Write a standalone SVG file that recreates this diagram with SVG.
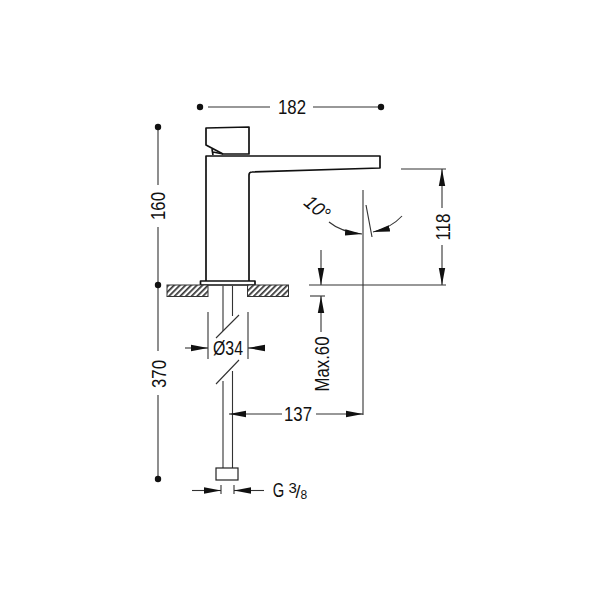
<svg xmlns="http://www.w3.org/2000/svg" width="600" height="600" viewBox="0 0 600 600">
<defs>
<marker id="a" markerUnits="userSpaceOnUse" markerWidth="18" markerHeight="8" refX="17" refY="4" orient="auto-start-reverse"><path d="M0 .8L17 4L0 7.2Z" fill="#111"/></marker>
<circle id="dot" r="3.2" fill="#111"/>
<pattern id="h" patternUnits="userSpaceOnUse" width="4" height="4" patternTransform="rotate(-45)"><rect width="4" height="4" fill="#fff"/><rect width="4" height="1.7" fill="#333"/></pattern>
</defs>
<style>
.o{fill:none;stroke:#111;stroke-width:1.7;stroke-linejoin:round}
.d{fill:none;stroke:#333;stroke-width:1.1}
.ar{marker-end:url(#a)}
text{font-family:"Liberation Sans",Arial,sans-serif;font-size:19.5px;fill:#111;text-anchor:middle}
</style>
<rect width="600" height="600" fill="#fff"/>
<g id="faucet">
<path class="o" d="M206 128L249 127V154H223L206 145Z"/>
<path class="o" d="M212 149L213 155M213 152L223 154"/>
<path class="o" d="M206 281V156H380V168L252 172Q249 172 249 175V281"/>
<path class="o" d="M200.500 285V281H255V285Z"/>
</g>
<g id="counter">
<rect x="167" y="285" width="41" height="11.500" fill="url(#h)" stroke="#333"/>
<rect x="247.500" y="285" width="41" height="11.500" fill="url(#h)" stroke="#333"/>
</g>
<g id="pipe">
<path class="d" d="M223 286V331M232.500 286V316M223 381V468M232.500 371V468"/>
<path class="d" d="M216 338L239 315M216 384L239 360"/>
<rect x="216" y="468" width="22" height="12" fill="#fff" stroke="#222" stroke-width="1.2"/>
</g>
<g id="connectors">
<path class="d" d="M208 107H270M313 107H379"/>
<path class="d" d="M158 128V185M158 227V351M158 395V479"/>
<path class="d" d="M363 190V415"/>
<path class="d" d="M366 205L372 237"/>
<path class="d" d="M309 285H446M401 169H446"/>
<path class="d" d="M310 296H325"/>
<path class="d" d="M208 312V359M248 312V359"/>
<path class="d" d="M221 485V494M234 485V494"/>
<path class="d ar" d="M442 208V169"/>
<path class="d ar" d="M442 245V285"/>
<path class="d ar" d="M321 250V285"/>
<path class="d ar" d="M321 332V296"/>
<path class="d ar" d="M185 348H208"/>
<path class="d ar" d="M265 348H248"/>
<path class="d ar" d="M282 414H229"/>
<path class="d ar" d="M316 414H363"/>
<path class="d ar" d="M192 490.500H221"/>
<path class="d ar" d="M264 490.500H234"/>
<path class="d ar" d="M329 222Q341 232 362 234"/>
<path class="d ar" d="M402 216Q391 228 373 232"/>
</g>
<g id="dots">
<use href="#dot" x="200" y="107"/><use href="#dot" x="381" y="107"/>
<use href="#dot" x="158" y="127"/><use href="#dot" x="158" y="285"/><use href="#dot" x="158" y="479"/>
</g>
<g id="labels">
<text x="292" y="114" textLength="28" lengthAdjust="spacingAndGlyphs">182</text>
<text transform="translate(165 206) rotate(-90)" textLength="28" lengthAdjust="spacingAndGlyphs">160</text>
<text transform="translate(166 374) rotate(-90)" textLength="28" lengthAdjust="spacingAndGlyphs">370</text>
<text transform="translate(450 227) rotate(-90)" textLength="27" lengthAdjust="spacingAndGlyphs">118</text>
<text transform="translate(329 364) rotate(-90)" textLength="55" lengthAdjust="spacingAndGlyphs">Max.60</text>
<text x="228" y="355" textLength="30" lengthAdjust="spacingAndGlyphs">Ø34</text>
<text x="298" y="421" textLength="28" lengthAdjust="spacingAndGlyphs">137</text>
<text transform="translate(313 213) rotate(40)" font-style="italic" textLength="27" lengthAdjust="spacingAndGlyphs">10°</text>
<text x="278.500" y="497" textLength="11.500" lengthAdjust="spacingAndGlyphs">G</text>
<text x="288.500" y="493" style="text-anchor:start;font-size:15px">3<tspan x="295.500" y="498" style="font-size:18px">/</tspan><tspan x="300.500" y="499" style="font-size:12px">8</tspan></text>
</g>
</svg>
